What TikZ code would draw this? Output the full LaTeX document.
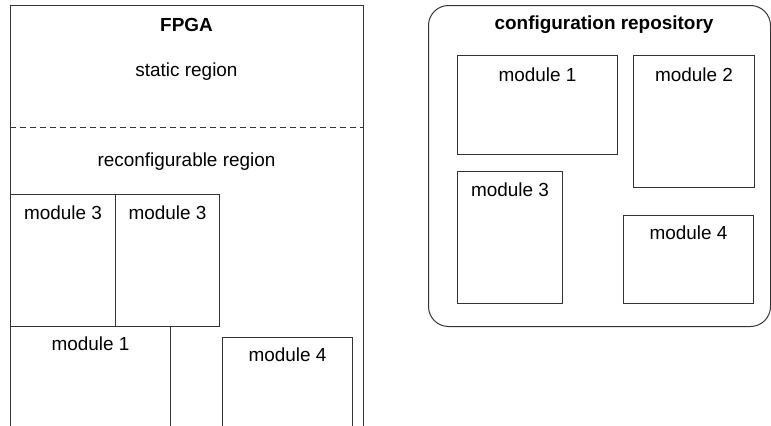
\documentclass[tikz,border=0pt]{standalone}
\usepackage{fontspec}
\setmainfont{Liberation Sans}
\begin{document}
\begin{tikzpicture}[x=0.75pt,y=-0.75pt,
  box/.style={draw=black!80, line width=0.75pt, anchor=north west, inner sep=0pt},
  lbl/.style={font=\fontsize{14.2}{16}\selectfont, inner sep=0pt},
  ttl/.style={font=\fontsize{14.2}{16}\selectfont\bfseries, inner sep=0pt}]
\useasboundingbox (0,0) rectangle (771,425);
\clip (0,0) rectangle (771,425);
% FPGA
\node[box, minimum width=264.75pt, minimum height=326.25pt] (fpga) at (10,5) {};
\node[ttl] (fpgat) at (186.5,25) {FPGA};
\node[lbl] (stat) at (186.5,72) {static region};
\coordinate (dl) at (10,127);
\coordinate (dr) at (363,127);
\draw[black!80, line width=0.75pt, dash pattern=on 4.5pt off 3pt] (dl) -- (dr);
\node[lbl] (reconf) at (186.5,162) {reconfigurable region};
\node[box, minimum width=78.75pt, minimum height=99pt] (fm3a) at (10,194) {};
\node[lbl] at ([yshift=-14.2pt]fm3a.north) {module 3};
\node[box, minimum width=78pt, minimum height=99pt] (fm3b) at (115,194) {};
\node[lbl] at ([yshift=-14.2pt]fm3b.north) {module 3};
\node[box, minimum width=120pt, minimum height=85.5pt] (fm1) at (10,326) {};
\node[lbl] at ([yshift=-13.5pt]fm1.north) {module 1};
\node[box, minimum width=97.5pt, minimum height=80pt] (fm4) at (222,337) {};
\node[lbl] at ([yshift=-13.5pt]fm4.north) {module 4};
% repository
\node[box, rounded corners=15pt, minimum width=256.5pt, minimum height=240.75pt] (repo) at (428,5) {};
\node[ttl] (repot) at (604,25) {configuration repository};
\node[box, minimum width=120pt, minimum height=74.25pt] (rm1) at (457,55) {};
\node[lbl] at ([yshift=-15pt]rm1.north) {module 1};
\node[box, minimum width=90.75pt, minimum height=99pt] (rm2) at (633,55) {};
\node[lbl] at ([yshift=-15pt]rm2.north) {module 2};
\node[box, minimum width=78.75pt, minimum height=99pt] (rm3) at (457,171) {};
\node[lbl] at ([yshift=-14.2pt]rm3.north) {module 3};
\node[box, minimum width=97.5pt, minimum height=66pt] (rm4) at (623,215) {};
\node[lbl] at ([yshift=-13.5pt]rm4.north) {module 4};
\end{tikzpicture}
\end{document}
